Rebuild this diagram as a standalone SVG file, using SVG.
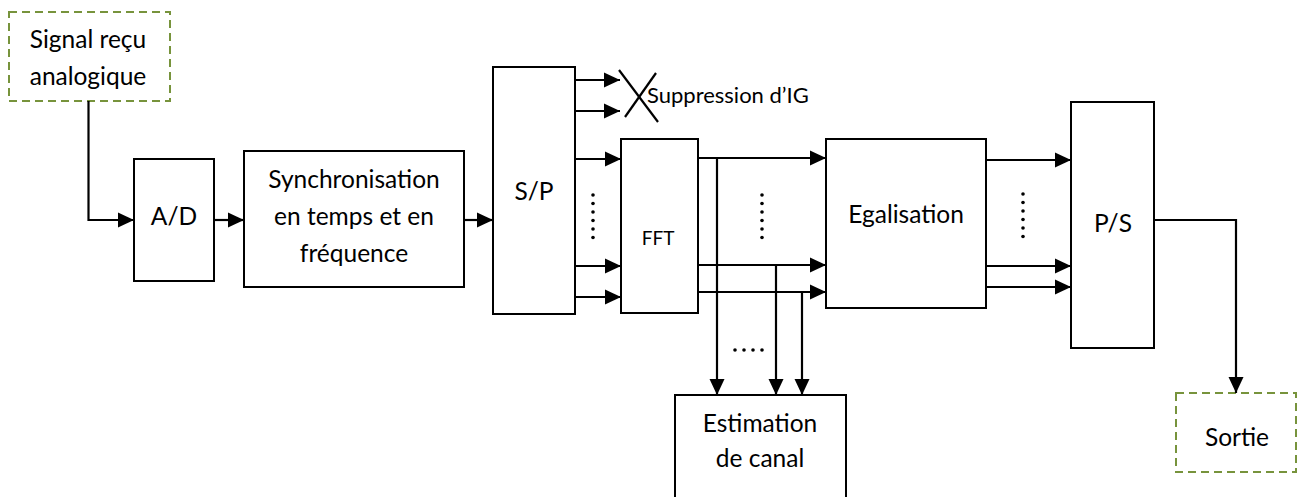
<svg xmlns="http://www.w3.org/2000/svg" width="1298" height="497" viewBox="0 0 1298 497">
<style>
.box{fill:#fff;stroke:#000;stroke-width:2}
.dash{fill:#fff;stroke:#77933C;stroke-width:2;stroke-dasharray:8 5}
.t{font-family:Lato,"Open Sans",sans-serif;font-size:24.5px;fill:#000;text-anchor:middle}
.c{fill:none;stroke:#000;stroke-width:2.2}
.dot{fill:#000}
</style>
<defs>
<marker id="ah" markerUnits="userSpaceOnUse" markerWidth="17" markerHeight="17" viewBox="0 0 17 17" refX="16" refY="8.5" orient="auto">
<path d="M0,1 L16,8.5 L0,16 Z" fill="#000"/>
</marker>
</defs>
<g id="signal"><rect class="dash" x="9" y="12" width="161" height="89"/><text class="t" x="88" y="48">Signal reçu</text><text class="t" x="88" y="85">analogique</text></g>
<g id="ad"><rect class="box" x="134" y="159" width="80" height="122"/><text class="t" x="174" y="225">A/D</text></g>
<g id="sync"><rect class="box" x="244" y="151" width="220" height="136"/><text class="t" x="354" y="188">Synchronisation</text><text class="t" x="354" y="225">en temps et en</text><text class="t" x="354" y="262">fréquence</text></g>
<g id="sp"><rect class="box" x="493" y="67" width="82" height="247"/><text class="t" x="534" y="200">S/P</text></g>
<g id="fft"><rect class="box" x="621" y="139" width="77" height="174"/><text class="t" x="658" y="245" style="font-size:19px">FFT</text></g>
<g id="egal"><rect class="box" x="826" y="139" width="160" height="169"/><text class="t" x="906" y="223">Egalisation</text></g>
<g id="ps"><rect class="box" x="1071" y="102" width="83" height="246"/><text class="t" x="1113" y="232">P/S</text></g>
<g id="estim"><rect class="box" x="675" y="395" width="171" height="110"/><text class="t" x="760" y="432">Estimation</text><text class="t" x="760" y="467">de canal</text></g>
<g id="sortie"><rect class="dash" x="1176" y="393" width="120" height="79"/><text class="t" x="1237" y="446">Sortie</text></g>
<g id="suppr"><line class="c" x1="619" y1="70" x2="658" y2="122"/><line class="c" x1="625" y1="117" x2="656" y2="73"/><text class="t" x="647" y="103" style="text-anchor:start;font-size:22px">Suppression d’IG</text></g>
<g id="connectors">
<path class="c" d="M88.5,101 V220 H134" marker-end="url(#ah)"/>
<path class="c" d="M214,220 H244" marker-end="url(#ah)"/>
<path class="c" d="M464,220 H493" marker-end="url(#ah)"/>
<path class="c" d="M575,80 H620" marker-end="url(#ah)"/>
<path class="c" d="M575,111 H620" marker-end="url(#ah)"/>
<path class="c" d="M575,159 H621" marker-end="url(#ah)"/>
<path class="c" d="M575,266 H621" marker-end="url(#ah)"/>
<path class="c" d="M575,297 H621" marker-end="url(#ah)"/>
<path class="c" d="M698,158 H826" marker-end="url(#ah)"/>
<path class="c" d="M698,265 H826" marker-end="url(#ah)"/>
<path class="c" d="M698,292 H826" marker-end="url(#ah)"/>
<path class="c" d="M717,158 V395" marker-end="url(#ah)"/>
<path class="c" d="M776,265 V395" marker-end="url(#ah)"/>
<path class="c" d="M802,292 V395" marker-end="url(#ah)"/>
<path class="c" d="M986,160 H1071" marker-end="url(#ah)"/>
<path class="c" d="M986,266 H1071" marker-end="url(#ah)"/>
<path class="c" d="M986,287 H1071" marker-end="url(#ah)"/>
<path class="c" d="M1154,220 H1236 V393" marker-end="url(#ah)"/>
</g>
<g id="dots">
<g class="dot"><circle cx="593" cy="195" r="1.8"/><circle cx="593" cy="203.5" r="1.8"/><circle cx="593" cy="212" r="1.8"/><circle cx="593" cy="220.5" r="1.8"/><circle cx="593" cy="229" r="1.8"/><circle cx="593" cy="237.5" r="1.8"/></g>
<g class="dot"><circle cx="762" cy="195" r="1.8"/><circle cx="762" cy="203.5" r="1.8"/><circle cx="762" cy="212" r="1.8"/><circle cx="762" cy="220.5" r="1.8"/><circle cx="762" cy="229" r="1.8"/><circle cx="762" cy="237.5" r="1.8"/></g>
<g class="dot"><circle cx="1023" cy="194" r="1.8"/><circle cx="1023" cy="202.5" r="1.8"/><circle cx="1023" cy="211" r="1.8"/><circle cx="1023" cy="219.5" r="1.8"/><circle cx="1023" cy="228" r="1.8"/><circle cx="1023" cy="236.5" r="1.8"/></g>
<g class="dot"><circle cx="735" cy="350" r="1.8"/><circle cx="744" cy="350" r="1.8"/><circle cx="753" cy="350" r="1.8"/><circle cx="762" cy="350" r="1.8"/></g>
</g>
</svg>
